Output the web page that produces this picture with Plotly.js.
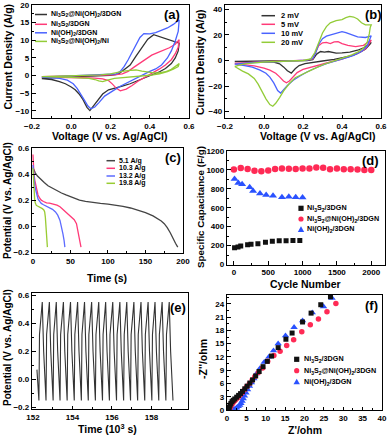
<!DOCTYPE html>
<html>
<head>
<meta charset="utf-8">
<script src="https://cdn.plot.ly/plotly-3.0.1.min.js"></script>
<style>
  html, body { margin: 0; padding: 0; background: #fff; }
  #chart { width: 390px; height: 436px; }
</style>
</head>
<body>
<div id="chart"></div>
<script>
/* (a) CV of the four electrodes: voltage (V) and current density (A/g), one closed loop each */
const aBlackV = [-0.15,-0.1,-0.05,0,0.05,0.1,0.15,0.2,0.24,0.27,0.3,0.33,0.36,0.39,0.42,0.45,0.48,0.51,0.55,
                 0.545,0.53,0.51,0.48,0.45,0.42,0.38,0.34,0.3,0.26,0.22,0.19,0.16,0.13,0.11,0.095,0.08,0.06,0.04,0.02,0,-0.03,-0.06,-0.1,-0.15];
const aBlackI = [-0.8,-0.6,-0.4,-0.3,-0.2,-0.1,0,0.1,0.4,1.6,3.0,5.5,8.0,10.3,11.6,11.0,10.4,9.9,9.2,
                 7.0,5.0,3.4,2.0,1.1,0.4,-0.5,-1.4,-2.3,-3.0,-3.5,-4.0,-5.2,-7.3,-9.0,-9.9,-9.0,-6.8,-5.2,-4.0,-3.2,-2.3,-1.7,-1.1,-0.85];
const aRedV = [-0.15,-0.05,0.05,0.15,0.22,0.26,0.29,0.32,0.35,0.38,0.41,0.44,0.47,0.5,0.53,0.55,
               0.545,0.53,0.51,0.48,0.45,0.42,0.38,0.34,0.31,0.28,0.25,0.23,0.21,0.19,0.16,0.12,0.05,-0.05,-0.15];
const aRedI = [-0.3,-0.2,-0.1,0.1,0.2,0.5,1.2,2.4,3.6,4.8,5.8,6.5,7.2,7.9,8.9,10.2,
               8.0,6.2,4.5,3.0,1.9,1.0,-0.2,-1.6,-2.8,-3.8,-4.3,-3.6,-2.4,-1.4,-0.9,-0.7,-0.6,-0.5,-0.4];
const aBlueV = [-0.15,-0.1,-0.05,0,0.05,0.1,0.15,0.2,0.23,0.25,0.27,0.29,0.31,0.33,0.35,0.37,0.4,0.43,0.46,0.49,0.52,0.55,
                0.545,0.53,0.51,0.49,0.46,0.43,0.4,0.35,0.3,0.25,0.21,0.17,0.14,0.12,0.1,0.085,0.07,0.05,0.03,0.01,-0.02,-0.06,-0.1,-0.15];
const aBlueI = [-0.4,-0.3,-0.2,-0.1,0,0.1,0.2,0.3,0.5,1.2,2.6,4.5,6.5,8.8,10.8,11.9,11.8,12.2,12.8,13.5,14.5,15.8,
                12.5,9.8,7.0,5.0,3.0,1.9,1.2,-0.2,-1.6,-3.0,-4.4,-5.8,-7.7,-8.9,-9.4,-8.6,-7.2,-5.4,-3.6,-2.3,-1.3,-0.8,-0.6,-0.4];
const aGreenV = [-0.15,-0.05,0.05,0.15,0.2,0.23,0.26,0.3,0.33,0.36,0.39,0.42,0.45,0.48,0.51,0.55,
                 0.545,0.52,0.49,0.45,0.4,0.35,0.3,0.26,0.22,0.19,0.16,0.14,0.12,0.09,0.05,0,-0.05,-0.1,-0.15];
const aGreenI = [-0.3,-0.2,-0.1,0.2,0.5,0.9,1.2,1.5,1.6,1.3,1.0,0.8,0.8,1.1,1.8,3.4,
                 2.6,1.8,1.1,0.5,0.1,-0.1,-0.3,-0.5,-0.8,-1.2,-1.7,-1.5,-1.1,-0.8,-0.6,-0.5,-0.4,-0.35,-0.3];
const aNames = ['Ni<sub>3</sub>S<sub>2</sub>@Ni(OH)<sub>2</sub>/3DGN', 'Ni<sub>3</sub>S<sub>2</sub>/3DGN',
                'Ni(OH)<sub>2</sub>/3DGN', 'Ni<sub>3</sub>S<sub>2</sub>@Ni(OH)<sub>2</sub>/Ni'];

/* (b) CV of the composite at four scan rates */
const b2V = [-0.15,-0.05,0.05,0.15,0.22,0.25,0.27,0.29,0.31,0.33,0.35,0.37,0.4,0.44,0.48,0.52,0.55,
             0.545,0.52,0.48,0.44,0.4,0.36,0.3,0.25,0.21,0.18,0.16,0.14,0.12,0.1,0.08,0.05,0,-0.05,-0.1,-0.15];
const b2I = [-0.8,-0.6,-0.4,-0.2,0,0.6,5.0,7.0,6.5,7.0,6.2,5.8,6.0,6.6,8.0,10.5,14.1,
             13.0,8.8,5.5,3.3,1.8,0.8,-0.4,-1.4,-2.4,-4.0,-6.5,-9.9,-8.0,-5.0,-2.6,-1.2,-0.9,-0.8,-0.8,-0.8];
const b5V = [-0.15,-0.1,-0.05,0.05,0.15,0.22,0.25,0.265,0.28,0.3,0.32,0.34,0.36,0.38,0.4,0.43,0.47,0.51,0.55,
             0.545,0.52,0.48,0.44,0.4,0.35,0.3,0.25,0.2,0.17,0.15,0.13,0.115,0.1,0.08,0.06,0.03,0,-0.05,-0.1,-0.15];
const b5I = [-2.2,-1.7,-1.3,-0.8,-0.3,0.2,1.2,6.0,11.5,13.8,14.2,13.2,14.6,14.8,13.2,11.8,10.9,11.8,16.0,
             14.5,9.0,5.5,3.0,1.0,-0.8,-2.8,-4.8,-7.0,-9.5,-12.5,-16.0,-17.4,-16.0,-12.8,-10.0,-7.5,-6.0,-4.2,-3.2,-2.5];
const b10V = [-0.15,-0.1,-0.05,0.05,0.15,0.22,0.25,0.265,0.28,0.3,0.32,0.35,0.38,0.4,0.42,0.45,0.48,0.52,0.55,
              0.545,0.53,0.5,0.46,0.42,0.37,0.32,0.27,0.22,0.18,0.15,0.12,0.1,0.085,0.07,0.05,0.03,0.01,-0.02,-0.06,-0.1,-0.15];
const b10I = [-2.9,-2.2,-1.6,-1.0,-0.4,0.2,1.5,6.0,12.5,17.0,19.0,20.3,21.2,22.6,21.8,19.8,18.4,18.0,19.3,
              17.5,11.5,7.0,4.0,2.0,0,-2.5,-5.5,-9.0,-12.5,-15.5,-19.5,-23.0,-25.5,-23.5,-17.5,-13.0,-10.0,-7.5,-5.2,-4.0,-2.9];
const b20V = [-0.15,-0.1,-0.05,0,0.1,0.2,0.24,0.26,0.28,0.3,0.32,0.34,0.37,0.4,0.42,0.44,0.46,0.48,0.5,0.52,0.55,
              0.545,0.54,0.53,0.51,0.48,0.45,0.4,0.35,0.3,0.25,0.2,0.16,0.13,0.1,0.08,0.06,0.045,0.03,0.01,-0.01,-0.03,-0.05,-0.08,-0.11,-0.15];
const b20I = [-4.7,-2.6,-1.8,-1.2,-0.6,0,1.2,6.0,13.6,21.5,26.5,29.5,31.2,32.0,33.5,34.5,34.0,32.5,29.5,27.8,27.8,
              26.0,21.0,14.5,9.5,6.5,4.4,2.0,-0.5,-3.4,-7.0,-10.5,-13.5,-18.0,-24.0,-29.0,-33.5,-35.8,-34.5,-30.0,-24.0,-18.5,-14.0,-10.5,-8.3,-4.7];
const bNames = ['2 mV', '5 mV', '10 mV', '20 mV'];

/* (c) discharge curves: time (s) and potential (V) */
const c51T = [0,1,3,6,10,15,20,26,32,38,44,50,56,62,70,80,90,100,110,120,130,140,150,160,166,171,175,179,183,187,190,193];
const c51U = [0.45,0.43,0.41,0.385,0.36,0.335,0.31,0.29,0.27,0.255,0.24,0.225,0.21,0.2,0.19,0.18,0.175,0.17,0.163,0.152,0.14,0.125,0.105,0.08,0.06,0.04,0.02,-0.01,-0.05,-0.1,-0.13,-0.16];
const c103T = [0,0.5,1.3,2.5,3.6,5,6.7,9,11,14,18,22,27,32,36,40,44,48,52,55,58,60,62,64];
const c103U = [0.55,0.47,0.4,0.35,0.32,0.27,0.24,0.215,0.2,0.19,0.18,0.178,0.172,0.162,0.15,0.13,0.11,0.09,0.07,0.05,0.02,-0.03,-0.1,-0.16];
const c132T = [0,0.5,1.3,2.5,3.6,5,6.7,9,11,14,18,22,26,30,33,36,38,40,41.5,42.5];
const c132U = [0.47,0.42,0.355,0.31,0.28,0.24,0.21,0.19,0.175,0.165,0.155,0.145,0.13,0.11,0.085,0.045,0.0,-0.06,-0.11,-0.16];
const c198T = [0,0.4,1,1.6,2.2,3,4.5,6,8,10,12.5,14.5,15.6,16.5,17.3,18.3,19.2];
const c198U = [0.445,0.39,0.33,0.27,0.21,0.18,0.16,0.155,0.15,0.145,0.135,0.125,0.11,0.07,0.02,-0.06,-0.16];
const cNames = ['5.1 A/g', '10.3 A/g', '13.2 A/g', '19.8 A/g'];

/* (d) cycling: cycle number and specific capacitance (F/g) */
const dNiSCycle = [10,60,100,200,250,350,460,560,660,760,860,960];
const dNiSCap = [178,185,195,210,213,220,235,245,252,252,253,253];
const dCompCycle = [0,100,200,300,400,500,600,700,800,900,1000,1100,1200,1300,1400,1500,1600,1700,1800,1900,2000];
const dCompCap = [1005,1020,1010,990,985,995,1010,1015,1012,1010,1015,1015,1025,1022,1008,1015,1008,1008,1005,1000,998];
const dNiOHCycle = [10,65,120,230,280,380,470,570,700,800,900,1000];
const dNiOHCap = [905,862,848,818,778,750,735,728,712,715,712,708];
const dNames = ['Ni<sub>3</sub>S<sub>2</sub>/3DGN', 'Ni<sub>3</sub>S<sub>2</sub>@Ni(OH)<sub>2</sub>/3DGN', 'Ni(OH)<sub>2</sub>/3DGN'];

/* (e) long-term charge/discharge: time (10^3 s) and potential (V) */
const eTime = [152.20,152.30,152.33,
  152.47,152.54,152.66,152.69, 152.83,152.90,153.02,153.05, 153.18,153.25,153.37,153.40,
  153.54,153.61,153.73,153.76, 153.90,153.97,154.09,154.12, 154.26,154.33,154.45,154.48,
  154.61,154.68,154.80,154.83, 154.97,155.04,155.16,155.19, 155.33,155.40,155.52,155.55,
  155.68,155.75,155.87,155.90, 156.04,156.11,156.23,156.26, 156.40,156.47,156.59,156.62,
  156.75,156.82,156.94,156.97, 157.11,157.18,157.30,157.33, 157.47,157.54,157.66,157.69,
  157.83,157.90,158.02,158.05, 158.18,158.25,158.37,158.40, 158.54,158.61,158.73,158.76,
  158.90,158.97,159.09];
const ePot = [0.07,-0.15,0.32,
  0.55,0.20,-0.15,0.32, 0.55,0.20,-0.15,0.32, 0.55,0.20,-0.15,0.32,
  0.55,0.20,-0.15,0.32, 0.55,0.20,-0.15,0.32, 0.55,0.20,-0.15,0.32,
  0.55,0.20,-0.15,0.32, 0.55,0.20,-0.15,0.32, 0.55,0.20,-0.15,0.32,
  0.55,0.20,-0.15,0.32, 0.55,0.20,-0.15,0.32, 0.55,0.20,-0.15,0.32,
  0.55,0.20,-0.15,0.32, 0.55,0.20,-0.15,0.32, 0.55,0.20,-0.15,0.32,
  0.55,0.20,-0.15,0.32, 0.55,0.20,-0.15,0.32, 0.55,0.20,-0.15,0.32,
  0.55,0.20,-0.15];

/* (f) Nyquist plots: Z' and -Z'' (ohm) */
const fNiSRe = [0.4,0.6,0.8,1.0,1.3,1.6,2.0,2.5,3.0,3.5,4.0,4.6,5.2,5.9,6.6,7.4,8.3,9.3,10.4,11.5,13.2,15.2,16.8,19.5,21.7,24.2,26.7];
const fNiSIm = [0.1,0.6,1.1,1.5,1.9,2.2,2.5,2.9,3.3,3.7,4.2,4.8,5.4,6.1,6.8,7.7,8.7,9.8,11.0,12.2,14.1,16.0,17.4,19.9,21.9,23.8,25.6];
const fCompRe = [0.6,0.8,1.0,1.3,1.6,2.0,2.4,2.9,3.4,3.9,4.5,5.1,5.8,6.5,7.2,8.1,9.2,10.5,12.1,13.7,15.4,17.2,19.3,21.5,23.6,25.8,28.1];
const fCompIm = [0.1,0.5,0.9,1.3,1.7,2.1,2.5,2.9,3.4,3.9,4.6,5.3,6.0,6.8,7.6,8.5,9.5,11.0,12.3,13.3,14.6,15.9,17.7,19.3,20.6,22.2,24.1];
const fNiOHRe = [0.9,1.3,1.7,2.1,2.5,2.9,3.3,3.6,3.9,4.2,4.5,4.9,5.3,5.8,6.3,6.9,7.6,8.5,9.6,10.8,12.0,13.2,15.1,17.3,19.5,22.0,24.9,27.1];
const fNiOHIm = [0.0,0.05,0.1,0.3,0.5,0.8,1.1,1.5,2.0,2.6,3.2,3.9,4.6,5.4,6.2,7.1,8.2,9.4,10.8,12.0,13.4,15.0,16.8,18.7,20.2,22.0,23.4,25.3];

const lineColors = ['#333333', '#ff3a78', '#4a63ff', '#93cc38'];
const markColors = ['#111111', '#ff2a55', '#2a52ff'];

// pixel position on the 390x436 page -> paper fraction
const W = 390, H = 436;
const px = p => p / W;
const py = p => 1 - p / H;

function line(x, y, color, ax, width) {
    return { x: x, y: y, xaxis: 'x' + ax, yaxis: 'y' + ax, mode: 'lines', hoverinfo: 'skip',
             line: { color: color, width: width || 1.3 }, showlegend: false };
}
function dots(x, y, color, symbol, size, ax) {
    return { x: x, y: y, xaxis: 'x' + ax, yaxis: 'y' + ax, mode: 'markers', hoverinfo: 'skip',
             marker: { color: color, symbol: symbol, size: size, line: { width: 0 } }, showlegend: false };
}

const traces = [
    line(aBlackV, aBlackI, lineColors[0], ''), line(aRedV, aRedI, lineColors[1], ''),
    line(aBlueV, aBlueI, lineColors[2], ''), line(aGreenV, aGreenI, lineColors[3], ''),
    line(b2V, b2I, lineColors[0], '2'), line(b5V, b5I, lineColors[1], '2'),
    line(b10V, b10I, lineColors[2], '2'), line(b20V, b20I, lineColors[3], '2'),
    line(c51T, c51U, '#444444', '3'), line(c103T, c103U, lineColors[1], '3'),
    line(c132T, c132U, '#5d6bff', '3'), line(c198T, c198U, '#99cc33', '3'),
    dots(dNiSCycle, dNiSCap, markColors[0], 'square', 5, '4'),
    dots(dCompCycle, dCompCap, markColors[1], 'circle', 6.5, '4'),
    dots(dNiOHCycle, dNiOHCap, markColors[2], 'triangle-up', 7, '4'),
    line(eTime, ePot, '#333333', '5', 1.1),
    dots(fNiOHRe, fNiOHIm, markColors[2], 'triangle-up', 6.5, '6'),
    dots(fCompRe, fCompIm, markColors[1], 'circle', 5.5, '6'),
    dots(fNiSRe, fNiSIm, markColors[0], 'square', 5, '6')
];

function axis(x0, x1, range, dtick, minor, extra) {
    return Object.assign({
        domain: [x0, x1], range: range, dtick: dtick, autorange: false,
        showline: true, mirror: true, linecolor: '#000', linewidth: 1.2,
        ticks: 'inside', ticklen: 3.5, tickwidth: 1, tickcolor: '#000',
        showgrid: false, zeroline: false,
        tickfont: { size: 8, weight: 'bold', color: '#000' },
        minor: { ticks: 'inside', ticklen: 2, tickcolor: '#000', dtick: minor, showgrid: false }
    }, extra || {});
}

const layout = {
    width: W, height: H,
    margin: { l: 0, r: 0, t: 0, b: 0 },
    paper_bgcolor: '#fff', plot_bgcolor: '#fff',
    font: { family: 'Liberation Sans, Arial, sans-serif', color: '#000' },
    showlegend: false,
    xaxis:  axis(px(32), px(189), [-0.2, 0.6], 0.2, 0.1, { anchor: 'y', tickformat: '.1f', tick0: 0 }),
    yaxis:  axis(py(118), py(5), [-12, 20], 5, 2.5, { anchor: 'x', tick0: 0 }),
    xaxis2: axis(px(225), px(381), [-0.2, 0.6], 0.2, 0.1, { anchor: 'y2', tickformat: '.1f', tick0: 0 }),
    yaxis2: axis(py(118), py(5), [-45, 43.4], 20, 10, { anchor: 'x2', tick0: 0 }),
    xaxis3: axis(px(32), px(183), [-1.3, 200], 50, 25, { anchor: 'y3', tick0: 0 }),
    yaxis3: axis(py(253), py(148), [-0.205, 0.6], 0.2, 0.1, { anchor: 'x3', tickformat: '.1f', tick0: 0 }),
    xaxis4: axis(px(227), px(385), [-100, 2200], 500, 250, { anchor: 'y4', tick0: 0 }),
    yaxis4: axis(py(264.5), py(151), [0, 1200], 200, 100, { anchor: 'x4', tick0: 0 }),
    xaxis5: axis(px(32), px(188), [151.95, 159.85], 2, 1, { anchor: 'y5', tick0: 152 }),
    yaxis5: axis(py(409), py(293), [-0.21, 0.615], 0.2, 0.1, { anchor: 'x5', tickformat: '.1f', tick0: 0 }),
    xaxis6: axis(px(227), px(382), [0, 40], 5, 2.5, { anchor: 'y6', tick0: 0 }),
    yaxis6: axis(py(410), py(295), [0, 26], 3, 1.5, { anchor: 'x6', tick0: 0 }),
    annotations: [],
    shapes: []
};

function text(x, y, str, size, opts) {
    layout.annotations.push(Object.assign({
        xref: 'paper', yref: 'paper', x: px(x), y: py(y), text: str, showarrow: false,
        xanchor: 'left', yanchor: 'middle', borderpad: 0,
        font: { size: size, weight: 'bold', color: '#000', family: 'Liberation Sans, Arial, sans-serif' }
    }, opts || {}));
}
function keyLine(x0, x1, y, color) {
    layout.shapes.push({ type: 'line', xref: 'paper', yref: 'paper', x0: px(x0), x1: px(x1), y0: py(y), y1: py(y),
                         line: { color: color, width: 1.5 } });
}
function keyMark(x, y, kind, color) {
    const r = 2.6;
    if (kind === 'triangle') {
        layout.shapes.push({ type: 'path', xref: 'paper', yref: 'paper', fillcolor: color, line: { width: 0 },
            path: 'M ' + px(x - 3.2) + ',' + py(y + 2.6) + ' L ' + px(x + 3.2) + ',' + py(y + 2.6) +
                  ' L ' + px(x) + ',' + py(y - 3) + ' Z' });
    } else {
        layout.shapes.push({ type: kind === 'square' ? 'rect' : 'circle', xref: 'paper', yref: 'paper',
            x0: px(x - r), x1: px(x + r), y0: py(y + r), y1: py(y - r), fillcolor: color, line: { width: 0 } });
    }
}

// legends
const aRows = [14.5, 24.3, 32.8, 41.4];
aRows.forEach((y, i) => { keyLine(35, 47, y, lineColors[i]); text(50, y, aNames[i], 7); });
const bRows = [15.7, 24.3, 33.3, 42.3];
bRows.forEach((y, i) => { keyLine(261.5, 275, y, lineColors[i]); text(280, y, bNames[i], 7.5); });
const cRows = [160.7, 168.3, 176, 183.3];
const cKeyColors = ['#444444', lineColors[1], '#5d6bff', '#99cc33'];
cRows.forEach((y, i) => { keyLine(106.5, 115, y, cKeyColors[i]); text(118, y, cNames[i], 7); });
const dRows = [208.3, 219, 229.3];
const markKinds = ['square', 'circle', 'triangle'];
dRows.forEach((y, i) => { keyMark(301, y, markKinds[i], markColors[i]); text(306, y, dNames[i], 7.2); });
const fRows = [359.3, 370.7, 381.7];
fRows.forEach((y, i) => { keyMark(296.7, y, markKinds[i], markColors[i]); text(302.5, y, dNames[i], 7.2); });

// panel letters
[['(a)', 171.5, 15], ['(b)', 373, 15], ['(c)', 173, 158], ['(d)', 370, 160], ['(e)', 178, 307], ['(f)', 371.5, 305]]
    .forEach(p => text(p[1], p[2], p[0], 13, { xanchor: 'center' }));

// axis titles
const xTitle = { xanchor: 'center' };
const yTitle = { xanchor: 'center', textangle: -90 };
text(110, 136, 'Voltage (V vs. Ag/AgCl)', 10.5, xTitle);
text(7.5, 57, 'Current Density (A/g)', 10.5, yTitle);
text(318, 136, 'Voltage (V vs. Ag/AgCl)', 10.5, xTitle);
text(200, 62, 'Current Density (A/g)', 10.5, yTitle);
text(107, 277.5, 'Time (s)', 10.5, xTitle);
text(7, 201, 'Potential (V vs. Ag/AgCl)', 10, yTitle);
text(305, 283.5, 'Cycle Number', 10.5, xTitle);
text(200, 207, 'Specific Capacitance (F/g)', 9.8, yTitle);
text(107, 428.5, 'Time (10<sup>3</sup> s)', 10.5, xTitle);
text(7, 348, 'Potential (V vs. Ag/AgCl)', 10, yTitle);
text(305, 429.5, "Z'/ohm", 10.5, xTitle);
text(203, 359, "-Z''/ohm", 10.5, yTitle);

Plotly.newPlot('chart', traces, layout, { staticPlot: true, displayModeBar: false });
</script>
</body>
</html>
